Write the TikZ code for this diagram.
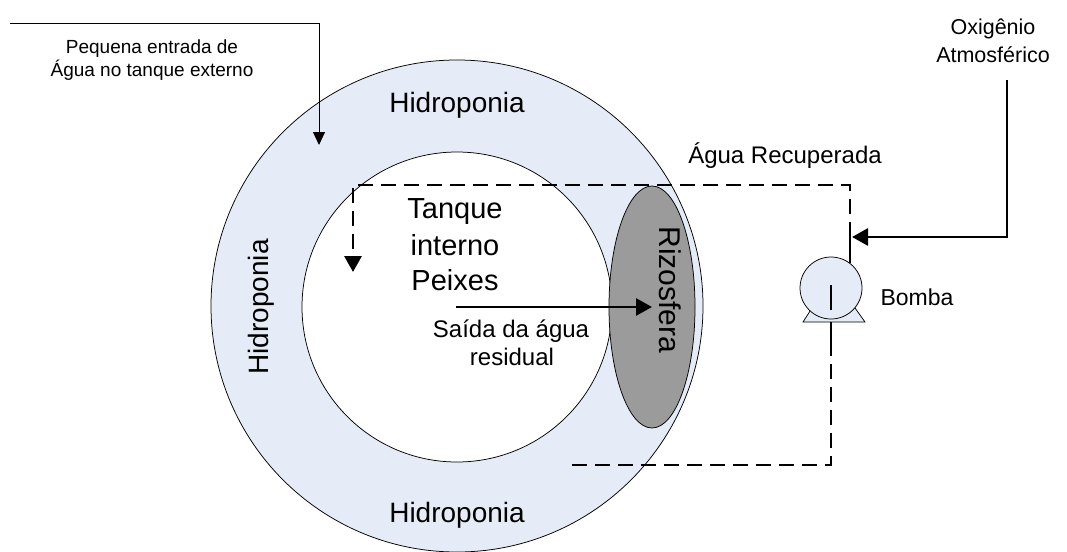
\documentclass[tikz,border=0pt]{standalone}
\usepackage{fontspec}
\setmainfont{Liberation Sans}
\usetikzlibrary{arrows.meta}
\definecolor{hydro}{RGB}{230,236,247}
\definecolor{rizo}{RGB}{155,155,155}
\begin{document}
\begin{tikzpicture}[x=1pt,y=-1pt,
  lbl/.style={inner sep=0pt,anchor=base},
  thinarrow/.style={line width=1pt,-{Triangle[length=13pt,width=12pt]}},
  thickarrow/.style={line width=2.8pt,-{Triangle[length=16pt,width=17pt]}},
  flowdash/.style={line width=2.9pt,dash pattern=on 15pt off 8pt},
  flowsolid/.style={line width=2.9pt},
  outline/.style={line width=0.75pt,draw=black}]
\useasboundingbox (0,0) rectangle (1067,551);
% circles
\fill[hydro] (457,306) circle[radius=246];
\draw[outline,fill=white] (457,307) circle[radius=155];
\draw[outline,fill=rizo] (652,307) ellipse[x radius=43,y radius=121];
\draw[outline] (457,306) circle[radius=246];
% texts
\node[lbl,font=\fontsize{28}{34}\selectfont] (hidtop) at (457,112) {Hidroponia};
\node[lbl,font=\fontsize{28}{34}\selectfont] (hidbot) at (457,522) {Hidroponia};
\node[lbl,font=\fontsize{28}{34}\selectfont,rotate=90] (hidleft) at (268,307) {Hidroponia};
\node[lbl,font=\fontsize{30}{34}\selectfont,rotate=-90] (rizosfera) at (659,290) {Rizosfera};
\node[lbl,font=\fontsize{29}{34}\selectfont] (tank1) at (455,218) {Tanque};
\node[lbl,font=\fontsize{29}{34}\selectfont] (tank2) at (455,255) {interno};
\node[lbl,font=\fontsize{29}{34}\selectfont] (tank3) at (455,290) {Peixes};
\node[lbl,font=\fontsize{24}{28}\selectfont] (said1) at (511,337) {Saída da água};
\node[lbl,font=\fontsize{24}{28}\selectfont] (said2) at (512,365) {residual};
\node[lbl,font=\fontsize{19}{24}\selectfont] (peq1) at (152,53) {Pequena entrada de};
\node[lbl,font=\fontsize{19}{24}\selectfont] (peq2) at (152,77) {Água no tanque externo};
\node[lbl,font=\fontsize{24}{28}\selectfont] (recup) at (785,163) {Água Recuperada};
\node[lbl,font=\fontsize{21.5}{28}\selectfont] (oxi1) at (993,35) {Oxigênio};
\node[lbl,font=\fontsize{21.5}{28}\selectfont] (oxi2) at (993,63) {Atmosférico};
\node[lbl,font=\fontsize{23}{28}\selectfont] (bombalbl) at (917,305) {Bomba};
% pump
\draw[outline,fill=hydro] (803,322) -- (812,308) -- (855,308) -- (865,322) -- cycle;
\node[circle,outline,fill=hydro,minimum size=62pt,inner sep=0pt] (pump) at (831,288) {};
\coordinate (pumpin) at (850,263);
\coordinate (pumpout) at (831,322);
\coordinate (dashstart) at (831,343);
\coordinate (brcorner) at (831,465);
\coordinate (bleft) at (572,465);
\coordinate (junction) at (850,237);
\coordinate (trcorner) at (850,185);
\coordinate (tlcorner) at (353,185);
\coordinate (tltip) at (353,272);
\draw[flowsolid] (831,285) -- (831,310);
% flow
\draw[flowsolid] (pumpout) -- (dashstart);
\draw[flowdash] (bleft) -- (brcorner) -- (dashstart);
\draw[flowsolid] (junction) -- (pumpin);
\draw[flowdash,-{Triangle[length=16pt,width=17pt]}] (junction) -- (trcorner) -- (tlcorner) -- (tltip);
% oxygen
\coordinate (oxtop) at (1007,80);
\coordinate (oxcorner) at (1007,237);
\draw[thickarrow] (oxtop) -- (oxcorner) -- (852,237);
% outlet arrow
\coordinate (outstart) at (456,307);
\coordinate (outend) at (652,307);
\draw[thickarrow] (outstart) -- (outend);
% inflow arrow
\coordinate (instart) at (10,24);
\coordinate (incorner) at (319,24);
\coordinate (inend) at (319,145);
\draw[thinarrow] (instart) -- (incorner) -- (inend);
\end{tikzpicture}
\end{document}
